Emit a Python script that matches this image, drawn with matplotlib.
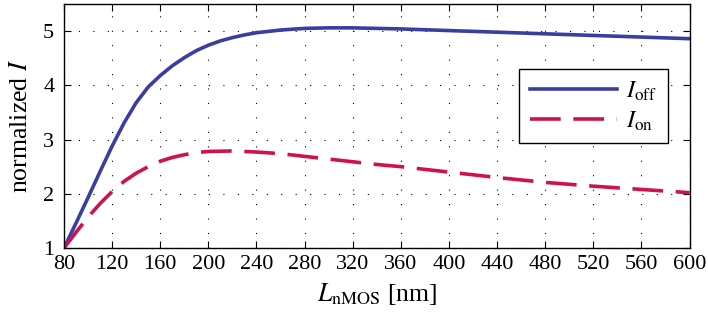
import numpy as np
import matplotlib
matplotlib.use("Agg")
import matplotlib.pyplot as plt

# data
L_off = [80, 90, 100, 110, 120, 130, 140, 150, 160, 170, 180, 190, 200, 210, 220,
         230, 240, 260, 280, 300, 320, 360, 400, 440, 480, 520, 560, 600]
I_off = [1.0, 1.46, 1.93, 2.41, 2.88, 3.31, 3.68, 3.97, 4.18, 4.36, 4.51, 4.64, 4.74,
         4.82, 4.88, 4.93, 4.97, 5.02, 5.05, 5.06, 5.06, 5.04, 5.01, 4.98, 4.95, 4.92,
         4.89, 4.86]
L_on = [80, 90, 100, 110, 120, 130, 140, 150, 160, 170, 180, 190, 200, 220, 240,
        260, 280, 300, 320, 340, 360, 400, 440, 480, 520, 560, 600]
I_on = [1.0, 1.29, 1.57, 1.82, 2.04, 2.23, 2.38, 2.5, 2.6, 2.67, 2.72, 2.76, 2.78,
        2.79, 2.77, 2.74, 2.69, 2.64, 2.59, 2.54, 2.5, 2.4, 2.3, 2.21, 2.14, 2.08, 2.02]

x_ticks = list(range(80, 601, 40))
y_ticks = [1, 2, 3, 4, 5]

plt.rcParams['font.family'] = ['Liberation Serif', 'DejaVu Serif']
plt.rcParams['mathtext.fontset'] = 'stix'

fig = plt.figure(figsize=(7.08, 3.22), dpi=100)
ax = fig.add_axes([0.0904, 0.2298, 0.8836, 0.7578])

ax.plot(L_off, I_off, color='#3a3ea0', lw=2.6, label=r'$I_\mathrm{off}$')
ax.plot(L_on, I_on, color='#d0104f', lw=2.6, linestyle=(0, (8.5, 3.5)),
        label=r'$I_\mathrm{on}$')

ax.set_xlim(80, 600)
ax.set_ylim(1, 5.5)
ax.set_xticks(x_ticks)
ax.set_yticks(y_ticks)
ax.tick_params(direction='in', length=5, width=0.8, top=True, right=True,
               labelsize=16)
ax.tick_params(axis='x', pad=5)
ax.tick_params(axis='y', pad=7)
ax.grid(True, color='black', linestyle=(0, (1, 12)), linewidth=0.8)
for s in ax.spines.values():
    s.set_linewidth(1.0)

ax.set_xlabel(r'$L_\mathrm{nMOS}$ [nm]', fontsize=18.5, labelpad=5)
ax.set_ylabel(r'normalized $I$', fontsize=18.5, labelpad=8)

leg = ax.legend(loc='upper right', bbox_to_anchor=(0.965, 0.734), borderaxespad=0,
                fancybox=False, framealpha=1, edgecolor='black', fontsize=17.5,
                handlelength=3.6, handletextpad=0.35, borderpad=0.45, labelspacing=0.25)
leg.get_frame().set_linewidth(1.0)

fig.savefig('out.png', dpi=100)
